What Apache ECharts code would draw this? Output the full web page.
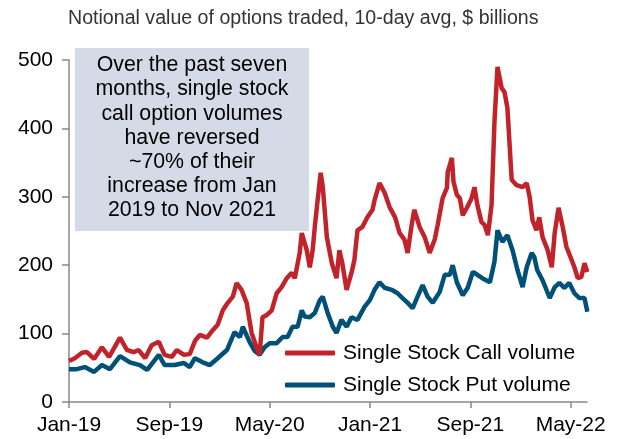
<!DOCTYPE html>
<html>
<head>
<meta charset="utf-8">
<script src="https://cdn.jsdelivr.net/npm/echarts@6/dist/echarts.min.js"></script>
<style>
html,body{margin:0;padding:0;background:#fff;}
#c{width:622px;height:439px;}
</style>
</head>
<body>
<div id="c"></div>
<script>
const titleText = 'Notional value of options traded, 10-day avg, $ billions';
const noteText = 'Over the past seven\nmonths, single stock\ncall option volumes\nhave reversed\n~70% of their\nincrease from Jan\n2019 to Nov 2021';
const seriesNames = ['Single Stock Call volume', 'Single Stock Put volume'];
const xTickLabels = ['Jan-19', 'Sep-19', 'May-20', 'Jan-21', 'Sep-21', 'May-22'];
const yTicks = [0, 100, 200, 300, 400, 500];

const callDates = ['2019-01-01','2019-01-15','2019-02-02','2019-02-14','2019-03-01','2019-03-20','2019-04-07','2019-05-03','2019-05-20','2019-06-06','2019-06-18','2019-07-03','2019-07-19','2019-08-06','2019-08-20','2019-09-07','2019-09-19','2019-10-06','2019-10-20','2019-11-03','2019-11-14','2019-12-01','2019-12-15','2019-12-27','2020-01-09','2020-01-21','2020-02-03','2020-02-12','2020-02-24','2020-03-06','2020-03-18','2020-03-30','2020-04-07','2020-04-14','2020-04-24','2020-05-06','2020-05-18','2020-05-30','2020-06-12','2020-06-24','2020-07-01','2020-07-13','2020-07-18','2020-07-30','2020-08-07','2020-08-14','2020-08-19','2020-08-26','2020-09-03','2020-09-08','2020-09-18','2020-09-30','2020-10-11','2020-10-18','2020-10-25','2020-11-05','2020-11-17','2020-11-24','2020-12-01','2020-12-13','2020-12-25','2021-01-07','2021-01-12','2021-01-24','2021-02-06','2021-02-18','2021-03-01','2021-03-12','2021-03-24','2021-04-01','2021-04-10','2021-04-17','2021-04-30','2021-05-12','2021-05-24','2021-06-06','2021-06-13','2021-06-25','2021-07-05','2021-07-07','2021-07-17','2021-07-21','2021-07-29','2021-08-06','2021-08-13','2021-08-23','2021-09-04','2021-09-11','2021-09-18','2021-09-28','2021-10-05','2021-10-13','2021-10-22','2021-10-29','2021-11-06','2021-11-16','2021-11-23','2021-11-30','2021-12-10','2021-12-22','2022-01-06','2022-01-16','2022-01-23','2022-01-30','2022-02-09','2022-02-16','2022-02-24','2022-03-06','2022-03-16','2022-03-23','2022-04-02','2022-04-12','2022-04-21','2022-05-03','2022-05-10','2022-05-18','2022-05-27','2022-06-04','2022-06-11'];
const callValues = [60,64,72,73,63,80,66,94,76,73,76,64,83,88,69,66,76,69,70,90,98,94,105,113,134,145,154,174,164,145,101,80,69,124,127,134,159,168,181,189,181,218,247,222,197,222,255,295,335,315,241,203,181,222,203,164,189,208,251,256,270,281,295,320,306,285,270,247,237,218,256,281,256,241,218,238,259,298,313,336,357,322,303,298,273,284,298,314,288,263,259,244,288,409,490,459,453,430,325,317,314,320,300,266,251,270,241,222,197,247,284,256,227,208,197,181,183,203,190];

const putDates = ['2019-01-01','2019-01-20','2019-02-09','2019-03-01','2019-03-20','2019-04-09','2019-05-03','2019-05-27','2019-06-21','2019-07-08','2019-08-06','2019-08-20','2019-09-14','2019-10-06','2019-10-20','2019-11-02','2019-11-21','2019-12-08','2019-12-27','2020-01-19','2020-02-07','2020-02-20','2020-02-27','2020-03-13','2020-03-25','2020-04-07','2020-04-19','2020-05-01','2020-05-18','2020-06-02','2020-06-14','2020-06-26','2020-07-08','2020-07-18','2020-07-25','2020-08-07','2020-08-19','2020-09-01','2020-09-08','2020-09-20','2020-10-02','2020-10-11','2020-10-23','2020-11-05','2020-11-17','2020-12-01','2020-12-18','2020-12-31','2021-01-12','2021-01-24','2021-02-06','2021-02-23','2021-03-07','2021-03-19','2021-04-01','2021-04-13','2021-04-25','2021-05-07','2021-05-19','2021-06-01','2021-06-18','2021-06-30','2021-07-12','2021-07-19','2021-07-29','2021-08-13','2021-08-25','2021-09-07','2021-09-18','2021-09-30','2021-10-18','2021-10-29','2021-11-06','2021-11-18','2021-11-30','2021-12-12','2021-12-24','2022-01-06','2022-01-16','2022-01-28','2022-02-04','2022-02-11','2022-02-24','2022-03-11','2022-03-23','2022-04-04','2022-04-16','2022-04-28','2022-05-10','2022-05-22','2022-06-04','2022-06-11'];
const putValues = [48,48,51,44,54,48,67,58,54,47,69,54,54,57,51,64,58,54,64,76,102,95,110,88,75,69,80,86,86,95,95,110,110,134,125,124,130,149,154,130,110,101,120,110,124,120,139,149,164,175,167,164,159,152,145,137,154,171,154,145,161,186,186,200,175,156,167,190,186,181,175,205,251,234,244,222,193,168,197,218,212,193,178,152,168,174,167,174,159,152,152,132];

function toMonth(s) {
  const p = s.split('-').map(Number);
  return (p[0] - 2019) * 12 + (p[1] - 1) + (p[2] - 1) / 30.4;
}
const monthToLabel = {};
xTickLabels.forEach((l, i) => { monthToLabel[i * 8] = l; });
const xTickValues = xTickLabels.map((l, i) => i * 8);

const callData = callDates.map((d, i) => [toMonth(d), callValues[i]]);
const putData = putDates.map((d, i) => [toMonth(d), putValues[i]]);

const FONT = '"Liberation Sans", Arial, sans-serif';
const RED = '#c1232b';
const BLUE = '#005078';

const chart = echarts.init(document.getElementById('c'), null, {renderer: 'canvas'});
chart.setOption({
  animation: false,
  backgroundColor: '#ffffff',
  title: {
    text: titleText,
    left: 63, top: 4,
    textStyle: {fontFamily: FONT, fontSize: 19.6, fontWeight: 'normal', color: '#333333'}
  },
  grid: {left: 69, right: 35, top: 60, bottom: 37, containLabel: false},
  legend: {
    orient: 'vertical',
    left: 280, top: 337,
    itemWidth: 50, itemHeight: 5, itemGap: 10,
    icon: 'roundRect',
    textStyle: {fontFamily: FONT, fontSize: 21, lineHeight: 22, color: '#000000', padding: [0, 0, 0, 3]},
    data: seriesNames
  },
  xAxis: {
    type: 'value',
    min: 0, max: 41.3,
    axisLine: {show: true, lineStyle: {color: '#888888', width: 1.5}},
    axisTick: {show: true, length: 6, customValues: xTickValues, lineStyle: {color: '#888888', width: 1.5}},
    axisLabel: {
      customValues: xTickValues,
      fontFamily: FONT, fontSize: 21, color: '#000000', margin: 13,
      formatter: v => monthToLabel[Math.round(v)] || ''
    },
    splitLine: {show: false}
  },
  yAxis: {
    type: 'value',
    min: 0, max: 500, interval: 100,
    axisLine: {show: true, lineStyle: {color: '#888888', width: 1.5}},
    axisTick: {show: true, length: 7, lineStyle: {color: '#888888', width: 1.5}},
    axisLabel: {fontFamily: FONT, fontSize: 21, color: '#000000', margin: 16,
      formatter: v => yTicks.indexOf(v) >= 0 ? String(v) : ''},
    splitLine: {show: false}
  },
  graphic: [{
    type: 'group',
    left: 75, top: 48,
    children: [{
      type: 'rect',
      shape: {x: 0, y: 0, width: 234, height: 183},
      style: {fill: '#d4dbe7'}
    }, {
      type: 'text',
      x: 117, y: 90,
      style: {
        text: noteText,
        fontFamily: FONT, fontSize: 21.3, lineHeight: 24.2,
        fill: '#000000', align: 'center', verticalAlign: 'middle'
      }
    }]
  }],
  series: [{
    name: seriesNames[1],
    type: 'line',
    data: putData,
    showSymbol: false, symbol: 'none',
    lineStyle: {color: BLUE, width: 4.5},
    itemStyle: {color: BLUE},
    z: 2
  }, {
    name: seriesNames[0],
    type: 'line',
    data: callData,
    showSymbol: false, symbol: 'none',
    lineStyle: {color: RED, width: 4.5},
    itemStyle: {color: RED},
    z: 3
  }]
});
</script>
</body>
</html>
